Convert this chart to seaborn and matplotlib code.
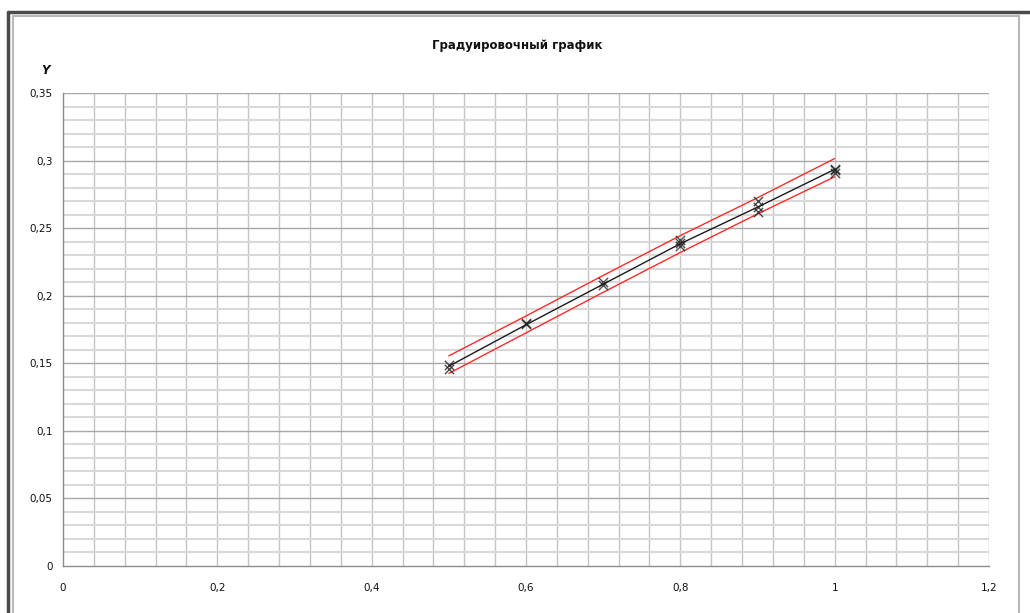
import numpy as np
import pandas as pd
import matplotlib
matplotlib.use("Agg")
import matplotlib.pyplot as plt
import seaborn as sns
from matplotlib.lines import Line2D
from matplotlib.ticker import MultipleLocator, FuncFormatter

# ---- data ----
title = "Градуировочный график"
y_label = "Y"

x_points = [0.5, 0.5, 0.6, 0.6, 0.7, 0.7, 0.8, 0.8, 0.8, 0.9, 0.9, 0.9, 1.0, 1.0, 1.0]
y_points = [0.146, 0.149, 0.179, 0.180, 0.208, 0.210, 0.237, 0.239, 0.241, 0.262, 0.266, 0.270, 0.291, 0.293, 0.294]

x_line = [0.5, 0.6, 0.7, 0.8, 0.9, 1.0]
y_fit = [0.1478, 0.1785, 0.2085, 0.2385, 0.2655, 0.2935]
y_upper = [0.1555, 0.1850, 0.2150, 0.2445, 0.2725, 0.3015]
y_lower = [0.1425, 0.1725, 0.2025, 0.2320, 0.2605, 0.2880]

x_ticks = [0, 0.2, 0.4, 0.6, 0.8, 1.0, 1.2]
y_ticks = [0, 0.05, 0.1, 0.15, 0.2, 0.25, 0.3, 0.35]

# ---- figure ----
sns.set_theme(style="white")
plt.rcParams['font.family'] = ['DejaVu Sans']

fig = plt.figure(figsize=(10.3, 6.13), dpi=100)
ax = fig.add_axes([63/1030, 1-566/613, (989-63)/1030, (566-93)/613])

pts = pd.DataFrame({"x": x_points, "y": y_points})
lines = pd.DataFrame({"x": x_line * 3,
                      "y": y_fit + y_upper + y_lower,
                      "kind": ["fit"] * 6 + ["upper"] * 6 + ["lower"] * 6})

sns.lineplot(data=lines, x="x", y="y", hue="kind",
             palette={"fit": "#1a1a1a", "upper": "#ff2a2a", "lower": "#ff2a2a"},
             linewidth=1.0, legend=False, ax=ax, zorder=3)
sns.scatterplot(data=pts, x="x", y="y", marker="x", s=45, color="#202020",
                linewidth=1.0, alpha=0.8, ax=ax, zorder=4, legend=False)

ax.set_xlim(0, 1.2)
ax.set_ylim(0, 0.35)
ax.set_xticks(x_ticks)
ax.set_yticks(y_ticks)
ax.xaxis.set_minor_locator(MultipleLocator(0.04))
ax.yaxis.set_minor_locator(MultipleLocator(0.01))

fmt = FuncFormatter(lambda v, p: ("%g" % round(v, 4)).replace(".", ","))
ax.xaxis.set_major_formatter(fmt)
ax.yaxis.set_major_formatter(fmt)

ax.grid(False)
for xv in np.arange(0.04, 1.2001, 0.04):
    ax.axvline(xv, color="#c4c4c4", linewidth=1.0, zorder=1)
for yv in np.arange(0.01, 0.3501, 0.01):
    if abs(yv / 0.05 - round(yv / 0.05)) < 1e-6:
        ax.axhline(yv, color="#a8a8a8", linewidth=1.0, zorder=1.5)
    else:
        ax.axhline(yv, color="#d9d9d9", linewidth=1.5, zorder=1)

for s in ["top", "right"]:
    ax.spines[s].set_visible(False)
for s in ["left", "bottom"]:
    ax.spines[s].set_color("#8c8c8c")
    ax.spines[s].set_linewidth(1.0)

ax.tick_params(axis="both", which="major", direction="out", length=3.5, width=1,
               color="#8c8c8c", labelsize=7.5, labelcolor="#111111")
ax.tick_params(axis="x", which="major", pad=8.5)
ax.tick_params(axis="y", which="major", pad=4)
ax.tick_params(axis="both", which="minor", length=0)
ax.set_xlabel("")
ax.set_ylabel("")

fig.text(517/1030, 1-45/613, title, ha="center", va="center",
         fontsize=8.5, fontweight="bold", color="#111111")
fig.text(46/1030, 1-71/613, y_label, ha="center", va="center",
         fontsize=8.5, fontweight="bold", fontstyle="italic", color="#111111")

# chart frame (screenshot border)
fig.add_artist(Line2D([8/1030, 1], [1-12/613, 1-12/613], color="#4a4a4a", linewidth=2.5))
fig.add_artist(Line2D([8/1030, 8/1030], [0, 1-12/613], color="#4a4a4a", linewidth=2.5))
fig.add_artist(Line2D([13/1030, 1019/1030], [1-15.5/613, 1-15.5/613], color="#b8b8b8", linewidth=1.5))
fig.add_artist(Line2D([13/1030, 13/1030], [0, 1-15.5/613], color="#b8b8b8", linewidth=1.5))
fig.add_artist(Line2D([1019/1030, 1019/1030], [0, 1-15.5/613], color="#b8b8b8", linewidth=1.5))

fig.savefig("out.png", dpi=100)
